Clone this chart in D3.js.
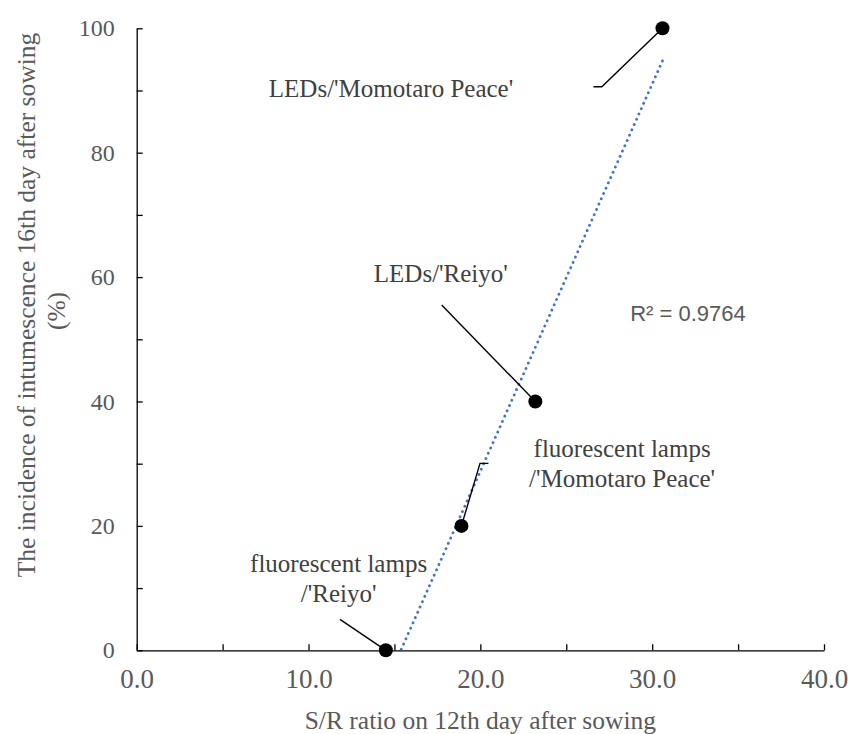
<!DOCTYPE html>
<html>
<head>
<meta charset="utf-8">
<script src="https://cdn.jsdelivr.net/npm/d3@7"></script>
<style>
  body { margin: 0; background: #fff; }
</style>
</head>
<body>
<div id="chart"></div>
<script>
// data
const treatments = ["fluorescent lamps/'Reiyo'", "fluorescent lamps/'Momotaro Peace'", "LEDs/'Reiyo'", "LEDs/'Momotaro Peace'"];
const srRatio = [14.5, 18.9, 23.2, 30.6];
const incidence = [0, 20, 40, 100];
const xTicks = [0, 5, 10, 15, 20, 25, 30, 35, 40];
const yTicks = [0, 10, 20, 30, 40, 50, 60, 70, 80, 90, 100];
const r2Text = "R\u00b2 = 0.9764";
const xTitle = "S/R ratio on 12th day after sowing";
const yTitle = ["The incidence of intumescence 16th day after sowing", "(%)"];

// where each callout sits, in data units (text anchor + leader line)
const callouts = [
  { lines: ["fluorescent lamps", "/'Reiyo'"], tx: 11.75, ty: 12.6, leader: [[11.83, 4.98]] },
  { lines: ["fluorescent lamps", "/'Momotaro Peace'"], tx: 28.25, ty: 31.1, leader: [[20.47, 30.06], [19.98, 30.06]] },
  { lines: ["LEDs/'Reiyo'"], tx: 17.7, ty: 59.2, leader: [[17.75, 55.5]] },
  { lines: ["LEDs/'Momotaro Peace'"], tx: 14.8, ty: 88.9, leader: [[26.58, 90.6], [27.07, 90.6]] }
];

const serif = "'Liberation Serif', 'Times New Roman', serif";
const width = 848, height = 734;
const margin = { left: 136.7, right: 24, top: 28.3, bottom: 83.7 };

const svg = d3.select("#chart").append("svg")
    .attr("width", width)
    .attr("height", height)
    .style("font-family", serif);

const x = d3.scaleLinear().domain([0, 40]).range([margin.left, width - margin.right]);
const y = d3.scaleLinear().domain([0, 100]).range([height - margin.bottom, margin.top]);

svg.append("defs").append("clipPath").attr("id", "plot")
  .append("rect")
    .attr("x", x(0)).attr("y", y(100) - 5)
    .attr("width", x(40) - x(0)).attr("height", y(0) - y(100) + 5);

// axes, ticks point inward
const xAxis = svg.append("g")
    .attr("transform", `translate(0,${y(0)})`)
    .call(d3.axisBottom(x).tickValues(xTicks).tickSizeInner(-6).tickSizeOuter(0).tickPadding(18)
      .tickFormat(d => d % 10 === 0 ? d3.format(".1f")(d) : ""));
xAxis.attr("font-family", serif);
xAxis.selectAll("text").attr("font-size", 27).attr("fill", "#595959").attr("dy", "0.72em");

const yAxis = svg.append("g")
    .attr("transform", `translate(${x(0)},0)`)
    .call(d3.axisLeft(y).tickValues(yTicks).tickSizeInner(-6).tickSizeOuter(0).tickPadding(22)
      .tickFormat(d => d % 20 === 0 ? d : ""));
yAxis.attr("font-family", serif);
yAxis.selectAll("text").attr("font-size", 24).attr("fill", "#595959");

svg.selectAll(".domain, .tick line").attr("stroke", "#000").attr("stroke-width", 1.3);

// axis titles
svg.append("text")
    .attr("x", (x(0) + x(40)) / 2)
    .attr("y", 729)
    .attr("text-anchor", "middle")
    .attr("font-size", 25.5)
    .attr("fill", "#595959")
    .text(xTitle);

svg.append("text")
    .attr("transform", "translate(35,305) rotate(-90)")
    .attr("text-anchor", "middle")
    .attr("font-size", 25.5)
    .attr("fill", "#595959")
    .text(yTitle[0]);
svg.append("text")
    .attr("transform", "translate(65,311) rotate(-90)")
    .attr("text-anchor", "middle")
    .attr("font-size", 25.5)
    .attr("fill", "#595959")
    .text(yTitle[1]);

// linear trendline (least squares)
const mx = d3.mean(srRatio), my = d3.mean(incidence);
const slope = d3.sum(srRatio, (v, i) => (v - mx) * (incidence[i] - my)) / d3.sum(srRatio, v => (v - mx) ** 2);
const intercept = my - slope * mx;
const xs = d3.extent(srRatio);

svg.append("line")
    .attr("clip-path", "url(#plot)")
    .attr("x1", x(xs[1])).attr("y1", y(slope * xs[1] + intercept))
    .attr("x2", x(xs[0])).attr("y2", y(slope * xs[0] + intercept))
    .attr("stroke", "#4472C4")
    .attr("stroke-width", 2.8)
    .attr("stroke-linecap", "round")
    .attr("stroke-dasharray", "0.1,5.7");

// callout leader lines
callouts.forEach((c, i) => {
  const pts = c.leader.concat([[srRatio[i], incidence[i]]]);
  svg.append("path")
      .attr("d", d3.line().x(p => x(p[0])).y(p => y(p[1]))(pts))
      .attr("fill", "none")
      .attr("stroke", "#000")
      .attr("stroke-width", 1.4);

  const t = svg.append("text")
      .attr("x", x(c.tx))
      .attr("y", y(c.ty))
      .attr("text-anchor", "middle")
      .attr("font-size", 25)
      .attr("fill", "#404040");
  c.lines.forEach((ln, j) => {
    t.append("tspan").attr("x", x(c.tx)).attr("dy", j === 0 ? 0 : 30).text(ln);
  });
});

// points
svg.selectAll(".dot")
  .data(srRatio.map((v, i) => ({ sr: v, inc: incidence[i], name: treatments[i] })))
  .join("circle")
    .attr("class", "dot")
    .attr("cx", d => x(d.sr))
    .attr("cy", d => y(d.inc))
    .attr("r", 7)
    .attr("fill", "#000");

svg.append("text")
    .attr("x", x(28.72))
    .attr("y", y(53))
    .attr("font-family", "'Liberation Sans', Arial, sans-serif")
    .attr("font-size", 22)
    .attr("fill", "#595959")
    .text(r2Text);
</script>
</body>
</html>
